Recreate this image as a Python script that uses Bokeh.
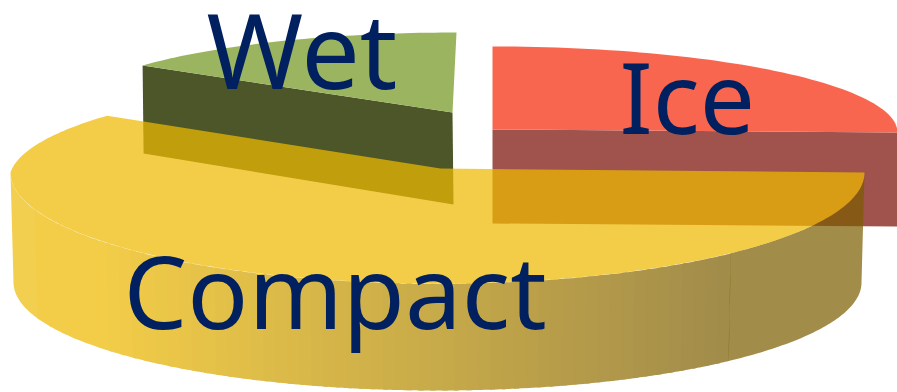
import numpy as np
from bokeh.core.properties import value
from bokeh.embed import file_html
from bokeh.plotting import figure
from bokeh.resources import INLINE

# Slice shares in percent
categories = ["Compact", "Ice", "Wet"]
shares = [60, 25, 15]

WIDTH, HEIGHT = 897, 392
FONT = "Noto Sans"
TEXT_COLOR = "#002060"

p = figure(width=WIDTH, height=HEIGHT, x_range=(0, WIDTH), y_range=(HEIGHT, 0),
           output_backend="svg", toolbar_location=None, min_border=0,
           outline_line_color=None, background_fill_color="white",
           border_fill_color="white")
p.axis.visible = False
p.grid.visible = False


def sweep(share):
    return np.radians(share * 3.6)


def rim(angles, cx, cy, rx, ry_back, ry_front, taper=0.0):
    """Project angles on the disc to the page, with the back half slightly narrowed."""
    u, v = np.cos(angles), np.sin(angles)
    back = np.clip(v, 0, None)
    scale = 1 / (1 + taper * back)
    ry = np.where(v > 0, ry_back, ry_front)
    return cx + rx * u * scale, cy - ry * v * scale


def mix(a, b, t):
    a, b = np.array(a, float), np.array(b, float)
    r, g, bl = (a + (b - a) * t).round().astype(int)
    return f"#{r:02x}{g:02x}{bl:02x}"


compact, ice, wet = shares

# Wet slice
t = np.linspace(np.pi / 2, np.pi / 2 + sweep(wet), 50)
wx, wy = rim(t, 456, 112, 388, 80, 80)
apex = (452, 112)
depth_l, depth_r = 88, 92
side_x = [wx[-1], apex[0], apex[0] + 1, wx[-1] + 1]
side_y = [wy[-1], apex[1], apex[1] + depth_r, wy[-1] + depth_l]
p.patch(side_x, side_y, fill_color="#4c5628", line_color=None)
p.patch(np.r_[apex[0], wx], np.r_[apex[1], wy], fill_color="#9bb45f", line_color=None)

# Ice slice
t = np.linspace(np.pi / 2, np.pi / 2 - sweep(ice), 60)
ix, iy = rim(t, 492, 132, 405, 86, 86)
p.patch([492, 897, 897, 492], [129, 132, 226, 223], fill_color="#9f534c", line_color=None)
p.patch(np.r_[492, ix, 492], np.r_[129, iy, 129], fill_color="#f96650", line_color=None)

# Compact slice: the curved wall shades from yellow to brown, left to right
TOP = dict(cx=437, cy=172, rx=427, ry_back=101, ry_front=111, taper=0.078)
BOTTOM = dict(cx=437, cy=282, rx=424, ry_back=101, ry_front=108)
WALL_EDGE, WALL_LIGHT, WALL_DARK = (0xf3, 0xcf, 0x50), (0xf3, 0xcd, 0x48), (0xa2, 0x8c, 0x4a)
GRADE_START, GRADE_END = 100, 720
BAND = 12

edges = np.arange(TOP["cx"] - TOP["rx"], GRADE_END + BAND, BAND)
angles = 2 * np.pi - np.arccos(np.clip((edges - TOP["cx"]) / TOP["rx"], -1, 1))
# Each band runs on under its right neighbour so no gap shows between them;
# the last one barely reaches under the translucent end of the wall
for k, (a0, a1, x0) in enumerate(zip(angles[:-1], angles[1:], edges[:-1])):
    overlap = 0.012 if k < len(edges) - 2 else 0.0012
    arc = np.linspace(a0, a1 + overlap, 8)
    tx, ty = rim(arc, **TOP)
    bx, by = rim(arc, **BOTTOM)
    frac = np.clip((x0 + BAND / 2 - GRADE_START) / (GRADE_END - GRADE_START), 0, 1)
    start = WALL_EDGE if x0 < 30 else WALL_LIGHT
    # Tucked just below the top face's rim so the two do not double up along it
    p.patch(np.r_[tx, bx[::-1]], np.r_[ty + 0.3, by[::-1]],
            fill_color=mix(start, WALL_DARK, frac), line_color=None)

arc = np.linspace(angles[-1], 2 * np.pi, 60)
tx, ty = rim(arc, **TOP)
bx, by = rim(arc, **BOTTOM)
p.patch(np.r_[tx, bx[::-1]], np.r_[ty, by[::-1]],
        fill_color="#7c5d00", fill_alpha=0.71, line_color=None)

t = np.linspace(0, -sweep(compact), 240) + 2 * np.pi
cx_, cy_ = rim(t, **TOP)
p.patch(np.r_[440, cx_], np.r_[168, cy_], fill_color="#efba00", fill_alpha=0.72, line_color=None)

# Slice names
label_x = [123, 619, 206]
label_y = [289, 95, 48]
label_sizes = ["101px", "98px", "104px"]
p.text(label_x, label_y, text=categories, text_font=value(FONT), text_font_size=label_sizes,
       text_color=TEXT_COLOR, text_baseline="alphabetic", text_align="left")

open("out.html", "w").write(file_html(p, INLINE))
